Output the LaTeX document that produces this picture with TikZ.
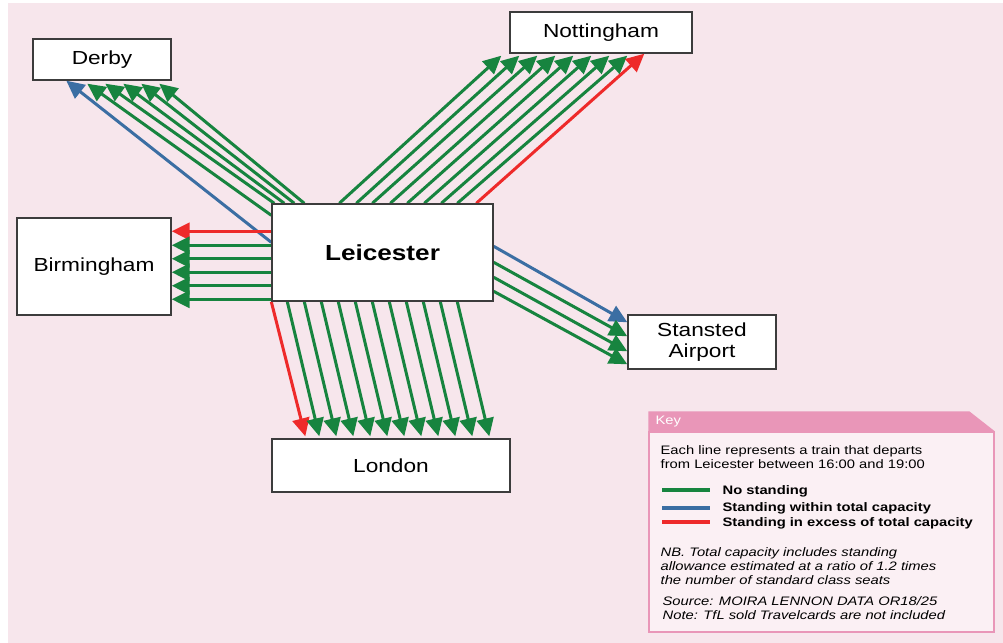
\documentclass[tikz,border=0pt]{standalone}
\usepackage{fontspec}
\setmainfont{Liberation Sans}[FakeStretch=1.2]
\usepackage{tikz}
\usetikzlibrary{backgrounds, calc, positioning, arrows.meta}
\pgfdeclarelayer{paper}
\pgfsetlayers{paper,background,main}

\definecolor{bgpink}{HTML}{F7E6EC}
\definecolor{keypink}{HTML}{E996B8}
\definecolor{keyfill}{HTML}{FBF0F4}
\definecolor{boxline}{HTML}{3C3C3C}
\definecolor{trgreen}{HTML}{17843F}
\definecolor{trblue}{HTML}{3B6EA3}
\definecolor{trred}{HTML}{EE2A2A}

\begin{document}
\begin{tikzpicture}[x=0.5pt, y=-0.5pt,
    city/.style={draw=boxline, fill=white, line width=0.7pt, inner sep=0pt,
      align=center, font=\fontsize{9.45}{10.5}\selectfont},
    train/.style={line width=1.5pt, -{Triangle[length=9pt,width=8.5pt]}},
    nostand/.style={train, trgreen},
    withincap/.style={train, trblue},
    overcap/.style={train, trred},
    keytext/.style={anchor=base west, inner sep=0pt, font=\fontsize{6.15}{7.1}\selectfont},
    keybold/.style={keytext, font=\fontsize{6.15}{7.1}\selectfont\bfseries},
    keyital/.style={keytext, font=\fontsize{6.15}{7.1}\selectfont\itshape},
    swatch/.style={line width=2pt},
  ]
  \useasboundingbox (0,0) rectangle (1003,643);
  \begin{pgfonlayer}{paper}
    \fill[white] (0,0) rectangle (1003,643);
    \fill[bgpink] (8,3) rectangle (1003,643);
  \end{pgfonlayer}

  \node[city, minimum width=110.5pt, minimum height=48.5pt,
    font=\fontsize{10.9}{12}\selectfont\bfseries] (leic) at (382.5,252.5) {Leicester};
  \node[city, minimum width=69pt, minimum height=20.5pt] (derby) at (102,59.5) {Derby};
  \node[city, minimum width=91pt, minimum height=20.5pt] (notts) at (601,32.5) {Nottingham};
  \node[city, minimum width=77pt, minimum height=48.5pt] (birm) at (94,266.5) {Birmingham};
  \node[city, minimum width=119pt, minimum height=26.5pt] (london) at (391,465.5) {London};
  \node[city, minimum width=74pt, minimum height=27pt] (stansted) at (702,342) {Stansted\\Airport};

  \begin{scope}[on background layer]
    % Derby
    \draw[withincap] ($(leic.north west)+(0,39)$) -- ($(derby.south west)+(34,0)$);
    \foreach \sx/\sy/\tx in {0/12/55, 3/0/73, 13/0/91, 23/0/109, 33/0/127}
      \draw[nostand] ($(leic.north west)+(\sx,\sy)$) -- ($(derby.south west)+(\tx,3)$);
    % Nottingham
    \foreach \sx/\tx in {68/-8, 85/10, 101/28, 119/46, 136/64, 153/82, 170/100, 186/118}
      \draw[nostand] ($(leic.north west)+(\sx,0)$) -- ($(notts.south west)+(\tx,2)$);
    \draw[overcap] ($(leic.north west)+(205,0)$) -- ($(notts.south west)+(135,0)$);
    % Birmingham
    \draw[overcap] ($(leic.north west)+(0,28)$) coordinate (b0) -- (b0 -| birm.east);
    \foreach \y in {42, 55.5, 69, 82.5, 96}
      \draw[nostand] ($(leic.north west)+(0,\y)$) coordinate (b) -- (b -| birm.east);
    % Stansted
    \draw[withincap] ($(leic.north east)+(0,43)$) -- ($(stansted.north west)+(0,8)$);
    \foreach \sy/\ty in {59/22, 74/37, 88/50}
      \draw[nostand] ($(leic.north east)+(0,\sy)$) -- ($(stansted.north west)+(0,\ty)$);
    % London
    \draw[overcap] (leic.south west) -- ($(london.north west)+(34,-2)$);
    \foreach \i in {0,...,10}
      \draw[nostand] ($(leic.south west)+(16+17*\i,0)$) -- ($(london.north west)+(48+17*\i,-2)$);
  \end{scope}

  % key
  \node[draw=keypink, fill=keyfill, line width=0.75pt, inner sep=0pt,
    minimum width=172.5pt, minimum height=100pt] (key) at (821.5,532) {};
  \fill[keypink] (key.north west) -- ++(0,-20) -- ++(321,0) -- (key.north east) -- cycle;
  \node[anchor=west, inner sep=0pt, text=white,
    font=\fontsize{6.15}{7.1}\selectfont] (keyhead) at ($(key.north west)+(7,-10)$) {Key};

  \node[keytext] (kl1) at ($(key.north west)+(12,23)$) {Each line represents a train that departs};
  \node[keytext] (kl2) at ($(key.north west)+(12,37.4)$) {from Leicester between 16:00 and 19:00};

  \draw[swatch, trgreen] ($(key.north west)+(14,58.7)$) -- ++(48,0);
  \draw[swatch, trblue] ($(key.north west)+(14,76.3)$) -- ++(48,0);
  \draw[swatch, trred] ($(key.north west)+(14,90.7)$) -- ++(48,0);
  \node[keybold] (kgreen) at ($(key.north west)+(74,63.1)$) {No standing};
  \node[keybold] (kblue) at ($(key.north west)+(74,80.7)$) {Standing within total capacity};
  \node[keybold] (kred) at ($(key.north west)+(74,95.1)$) {Standing in excess of total capacity};

  \node[keyital] (nb1) at ($(key.north west)+(12,125.1)$) {NB. Total capacity includes standing};
  \node[keyital] (nb2) at ($(key.north west)+(12,139.1)$) {allowance estimated at a ratio of 1.2 times};
  \node[keyital] (nb3) at ($(key.north west)+(12,153.4)$) {the number of standard class seats};
  \node[keyital] (src) at ($(key.north west)+(14,174.1)$) {Source: MOIRA LENNON DATA OR18/25};
  \node[keyital] (note) at ($(key.north west)+(14,188.4)$) {Note: TfL sold Travelcards are not included};
\end{tikzpicture}
\end{document}
